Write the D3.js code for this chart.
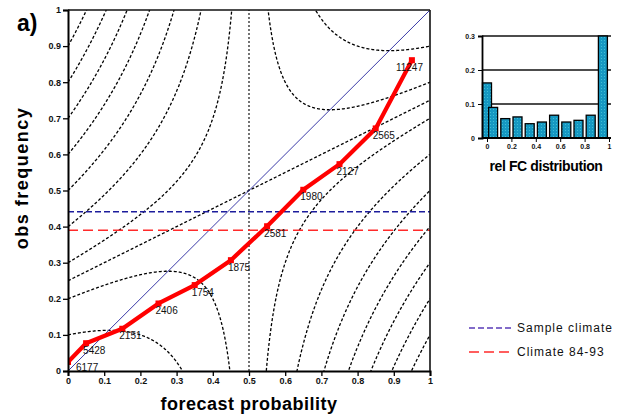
<!DOCTYPE html>
<html>
<head>
<meta charset="utf-8">
<script src="https://cdn.jsdelivr.net/npm/d3@7"></script>
<style>
  html, body { margin: 0; padding: 0; background: #fff; }
  svg { display: block; }
  text { font-family: "Liberation Sans", Arial, sans-serif; }
</style>
</head>
<body>
<svg id="chart" width="620" height="418"></svg>
<script>
// Reliability diagram: forecast probability bins, observed frequency, sample counts
const fcProb   = [0, 0.05, 0.15, 0.25, 0.35, 0.45, 0.55, 0.65, 0.75, 0.85, 0.95];
const obsFreq  = [0.025, 0.077, 0.117, 0.187, 0.238, 0.307, 0.401, 0.502, 0.573, 0.672, 0.861];
const counts   = [6177, 5428, 2151, 2406, 1754, 1875, 2581, 1980, 2127, 2565, 11247];
// Relative frequency of forecasts per bin (inset histogram)
const relFC    = [0.162, 0.090, 0.057, 0.062, 0.042, 0.047, 0.067, 0.047, 0.052, 0.067, 0.300];
// Climatological reference lines
const sampleClimate = 0.441;
const climate8493   = 0.39;
// Skill isolines: levels of (o - c)^2 - (p - o)^2 around c = 0.5
const isoCenter = 0.5;
const isoLevels = [0.15, 0.05, 0, -0.05, -0.15, -0.25, -0.35, -0.45, -0.55, -0.65];
// Axis ticks
const mainTicks  = [0, 0.1, 0.2, 0.3, 0.4, 0.5, 0.6, 0.7, 0.8, 0.9, 1];
const insetXTicks = [0, 0.2, 0.4, 0.6, 0.8, 1];
const insetYTicks = [0, 0.1, 0.2, 0.3];

const svg = d3.select("#chart");
const x = d3.scaleLinear().domain([0, 1]).range([68, 430]);
const y = d3.scaleLinear().domain([0, 1]).range([371, 10]);

svg.append("defs").append("clipPath").attr("id", "plotClip")
  .append("rect").attr("x", x(0)).attr("y", y(1))
  .attr("width", x(1) - x(0)).attr("height", y(0) - y(1));

const plot = svg.append("g").attr("clip-path", "url(#plotClip)");

// Skill isolines (hyperbola branches either side of p = c)
const line = d3.line().x(d => x(d[0])).y(d => y(d[1]));
isoLevels.forEach(f => {
  const branches = f === 0 ? [[0, 1]] : [[0, isoCenter - 1e-4], [isoCenter + 1e-4, 1]];
  branches.forEach(([a, b]) => {
    const pts = [];
    for (let i = 0; i <= 600; i++) {
      const p = a + (b - a) * i / 600;
      const o = (f - isoCenter * isoCenter + p * p) / (2 * (p - isoCenter));
      if (o > -0.5 && o < 1.5) pts.push([p, o]);
    }
    plot.append("path").attr("d", line(pts))
      .attr("fill", "none").attr("stroke", "#000")
      .attr("stroke-width", 1.3).attr("stroke-dasharray", "3,2");
  });
});

// Vertical line at p = c
plot.append("line")
  .attr("x1", x(isoCenter)).attr("x2", x(isoCenter))
  .attr("y1", y(0)).attr("y2", y(1))
  .attr("stroke", "#000").attr("stroke-width", 1.1).attr("stroke-dasharray", "2,2");

// Perfect reliability diagonal
plot.append("line")
  .attr("x1", x(0)).attr("y1", y(0)).attr("x2", x(1)).attr("y2", y(1))
  .attr("stroke", "#3b3ba8").attr("stroke-width", 1);

// Climate lines
plot.append("line")
  .attr("x1", x(0)).attr("x2", x(1))
  .attr("y1", y(sampleClimate)).attr("y2", y(sampleClimate))
  .attr("stroke", "#1c1c9c").attr("stroke-width", 1.6).attr("stroke-dasharray", "6,3");
plot.append("line")
  .attr("x1", x(0)).attr("x2", x(1))
  .attr("y1", y(climate8493)).attr("y2", y(climate8493))
  .attr("stroke", "#ff2a2a").attr("stroke-width", 1.6).attr("stroke-dasharray", "10,5");

// Reliability curve
const rel = fcProb.map((p, i) => [p, obsFreq[i]]);
plot.append("path").attr("d", line(rel))
  .attr("fill", "none").attr("stroke", "#ff0000")
  .attr("stroke-width", 4.2).attr("stroke-linejoin", "round");
plot.selectAll("rect.pt").data(rel).join("rect").attr("class", "pt")
  .attr("x", d => x(d[0]) - 3).attr("y", d => y(d[1]) - 3)
  .attr("width", 6).attr("height", 6).attr("fill", "#ff0000");

// Count labels
const labelG = svg.append("g")
  .attr("font-family", "'Liberation Serif', 'Times New Roman', serif")
  .attr("font-size", 10).attr("fill", "#111");
rel.forEach((d, i) => {
  const px = x(d[0]), py = y(d[1]);
  const t = labelG.append("text").text(counts[i]).attr("dy", "0.35em")
    .attr("y", Math.min(py + 7, y(0) - 4));
  const w = t.node().getComputedTextLength();
  let lx = Math.max(px - 3, x(0) + 8);
  if (lx + w > x(1) - 6) lx = x(1) - 7 - w;
  t.attr("x", lx);
});

// Axes
const axisFont = g => g.selectAll("text")
  .attr("font-family", "'Liberation Sans', Arial, sans-serif")
  .attr("font-weight", "bold").attr("font-size", 9).attr("fill", "#111");
const fmt = d3.format("~g");
svg.append("g").attr("transform", `translate(0,${y(0)})`)
  .call(d3.axisBottom(x).tickValues(mainTicks).tickFormat(fmt).tickSize(5).tickPadding(2))
  .call(g => g.select(".domain").attr("stroke-width", 2))
  .call(g => g.selectAll(".tick line").attr("stroke-width", 1.3))
  .call(axisFont);
svg.append("g").attr("transform", `translate(${x(0)},0)`)
  .call(d3.axisLeft(y).tickValues(mainTicks).tickFormat(fmt).tickSize(5).tickPadding(2))
  .call(g => g.select(".domain").attr("stroke-width", 2))
  .call(g => g.selectAll(".tick line").attr("stroke-width", 1.3))
  .call(axisFont);
// Frame top and right
svg.append("line").attr("x1", x(0)).attr("x2", x(1)).attr("y1", y(1)).attr("y2", y(1))
  .attr("stroke", "#111").attr("stroke-width", 1.6);
svg.append("line").attr("x1", x(1)).attr("x2", x(1)).attr("y1", y(1)).attr("y2", y(0))
  .attr("stroke", "#111").attr("stroke-width", 1.6);

// Titles
svg.append("text").attr("x", 249).attr("y", 410).attr("text-anchor", "middle")
  .attr("font-weight", "bold").attr("font-size", 18).attr("letter-spacing", 0.5)
  .text("forecast probability");
svg.append("text").attr("transform", "translate(28,178) rotate(-90)")
  .attr("text-anchor", "middle").attr("font-weight", "bold").attr("font-size", 18)
  .attr("letter-spacing", 1.5).text("obs frequency");
svg.append("text").attr("x", 17).attr("y", 31)
  .attr("font-family", "'Liberation Serif', 'Times New Roman', serif")
  .attr("font-weight", "bold").attr("font-size", 23).text("a)");

// Inset histogram
const ix = d3.scaleLinear().domain([0, 1]).range([487, 609]);
const iy = d3.scaleLinear().domain([0, 0.3]).range([138, 36]);
const pat = svg.select("defs").append("pattern").attr("id", "dots")
  .attr("width", 3).attr("height", 3).attr("patternUnits", "userSpaceOnUse");
pat.append("rect").attr("width", 3).attr("height", 3).attr("fill", "#1698c2");
pat.append("rect").attr("x", 1).attr("y", 1).attr("width", 1).attr("height", 1).attr("fill", "#3fbfd6");

const inset = svg.append("g");
inset.selectAll("line.grid").data(insetYTicks.slice(1)).join("line").attr("class", "grid")
  .attr("x1", 482).attr("x2", 611).attr("y1", d => iy(d)).attr("y2", d => iy(d))
  .attr("stroke", "#111").attr("stroke-width", 1.3);
inset.selectAll("rect.bar").data(relFC).join("rect").attr("class", "bar")
  .attr("x", (d, i) => ix(fcProb[i]) - 4.5).attr("width", 9)
  .attr("y", d => iy(d)).attr("height", d => iy(0) - iy(d))
  .attr("fill", "url(#dots)").attr("stroke", "#000").attr("stroke-width", 1.3);
inset.append("g").attr("transform", `translate(0,${iy(0)})`)
  .call(d3.axisBottom(ix).tickValues(insetXTicks).tickFormat(fmt).tickSize(4).tickPadding(2))
  .call(g => g.select(".domain").attr("d", `M482,0H611`).attr("stroke-width", 1.8))
  .call(g => g.selectAll("text").attr("font-weight", "bold").attr("font-size", 7).attr("fill", "#111"));
inset.append("g").attr("transform", "translate(482,0)")
  .call(d3.axisLeft(iy).tickValues(insetYTicks).tickFormat(fmt).tickSize(4).tickPadding(3))
  .call(g => g.select(".domain").attr("stroke-width", 1.8))
  .call(g => g.selectAll("text").attr("font-weight", "bold").attr("font-size", 7).attr("fill", "#111"));
svg.append("text").attr("x", 546).attr("y", 171).attr("text-anchor", "middle")
  .attr("font-weight", "bold").attr("font-size", 14).attr("letter-spacing", -0.4)
  .text("rel FC distribution");

// Legend
const legend = [
  { label: "Sample climate", color: "#5a3bb8", dash: "6,3", y: 328 },
  { label: "Climate 84-93", color: "#ff2a2a", dash: "10,5", y: 352 }
];
legend.forEach(l => {
  svg.append("line").attr("x1", 469).attr("x2", 514).attr("y1", l.y).attr("y2", l.y)
    .attr("stroke", l.color).attr("stroke-width", 1.6).attr("stroke-dasharray", l.dash);
  svg.append("text").attr("x", 517).attr("y", l.y).attr("dy", "0.35em")
    .attr("font-size", 12).attr("letter-spacing", 1).attr("fill", "#111").text(l.label);
});
</script>
</body>
</html>
